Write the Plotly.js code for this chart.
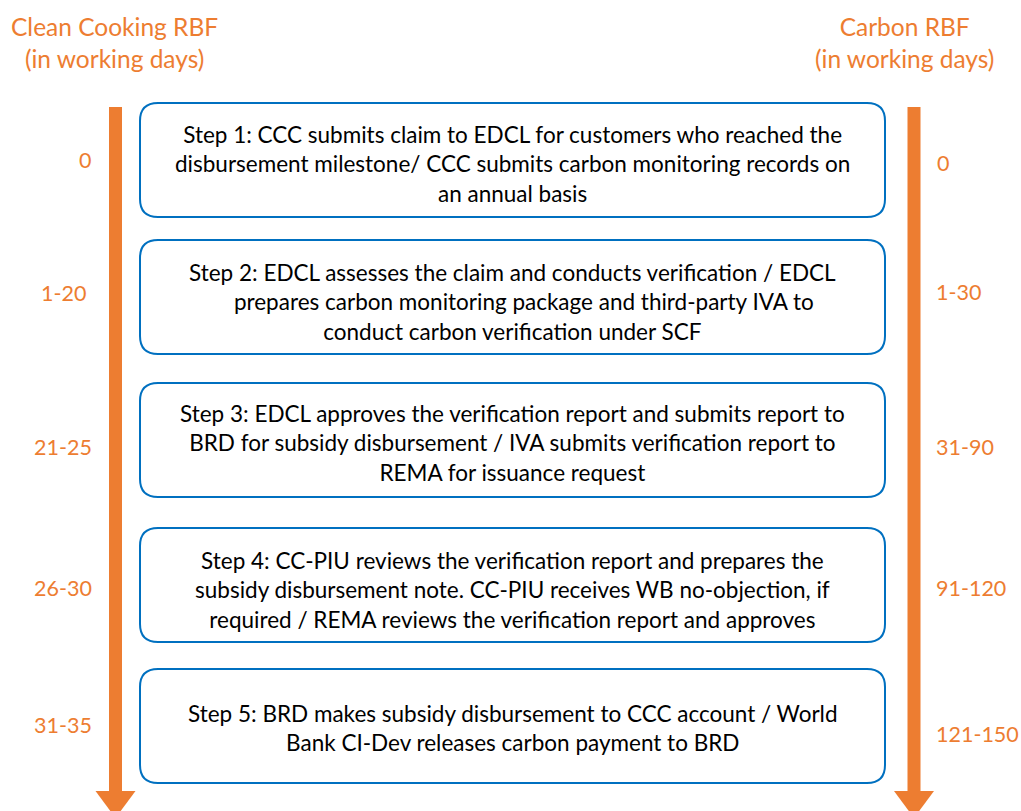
<!DOCTYPE html>
<html><head><meta charset="utf-8">
<script src="https://cdn.plot.ly/plotly-3.0.1.min.js"></script>
<style>html,body{margin:0;padding:0;background:#fff;}#chart{width:1021px;height:811px;}</style>
</head><body><div id="chart"></div>
<script>
// ---- data ----
const steps = [
  "Step 1: CCC submits claim to EDCL for customers who reached the<br>disbursement milestone/ CCC submits carbon monitoring records on<br>an annual basis",
  "Step 2: EDCL assesses the claim and conducts verification / EDCL<br>    prepares carbon monitoring package and third-party IVA to<br>conduct carbon verification under SCF",
  "Step 3: EDCL approves the verification report and submits report to<br>BRD for subsidy disbursement / IVA submits verification report to<br>REMA for issuance request",
  "Step 4: CC-PIU reviews the verification report and prepares the<br>subsidy disbursement note. CC-PIU receives WB no-objection, if<br>required / REMA reviews the verification report and approves",
  "Step 5: BRD makes subsidy disbursement to CCC account / World<br>Bank CI-Dev releases carbon payment to BRD"
];
const cleanCookingDays = ["0", "1-20", "21-25", "26-30", "31-35"];
const carbonDays = ["0", "1-30", "31-90", "91-120", "121-150"];
const leftTitle = "Clean Cooking RBF<br>(in working days)";
const rightTitle = "Carbon RBF<br>(in working days)";

// ---- layout geometry ----
const W = 1021, H = 811;
const boxTop = [103, 240, 383, 528, 669];
const boxH = 114, boxL = 140, boxR = 885, rad = 18;
const textOffset = [4, 5, 3, 5, 2];
const orange = "#ED7D31", blue = "#0070C0";
const fontFam = "Lato, 'Open Sans', sans-serif";

function roundRect(x0, y0, x1, y1, r) {
  return `M${x0+r},${y0} L${x1-r},${y0} Q${x1},${y0} ${x1},${y0+r} L${x1},${y1-r} Q${x1},${y1} ${x1-r},${y1} L${x0+r},${y1} Q${x0},${y1} ${x0},${y1-r} L${x0},${y0+r} Q${x0},${y0} ${x0+r},${y0} Z`;
}
function arrow(cx) {
  return [
    {type:"rect", xref:"x", yref:"y", x0:cx-6.5, x1:cx+6.5, y0:107, y1:792, fillcolor:orange, line:{width:0}},
    {type:"path", xref:"x", yref:"y", path:`M${cx-20},791 L${cx+20},791 L${cx},818 Z`, fillcolor:orange, line:{width:0}}
  ];
}

const shapes = [];
shapes.push(...arrow(115.5), ...arrow(914));
steps.forEach((s, i) => {
  shapes.push({type:"path", xref:"x", yref:"y", path: roundRect(boxL, boxTop[i], boxR, boxTop[i]+boxH, rad),
    fillcolor:"#ffffff", line:{color:blue, width:2}});
});

const annotations = [];
steps.forEach((s, i) => {
  annotations.push({x:(boxL+boxR)/2, y:boxTop[i]+boxH/2 + textOffset[i], xref:"x", yref:"y", text:s, showarrow:false,
    align:"center", xanchor:"center", yanchor:"middle",
    font:{family:fontFam, size:22.5, color:"#000"}});
});
const leftX = [85, 63, 63, 63, 63];
const leftY = [160, 293, 447, 588, 725];
const rightX = [943, 958, 965, 971, 977];
const rightY = [163, 292, 447, 588, 734];
cleanCookingDays.forEach((d, i) => {
  annotations.push({x:leftX[i], y:leftY[i], xref:"x", yref:"y", text:d, showarrow:false, xanchor:"center", yanchor:"middle",
    font:{family:fontFam, size:21.5, color:orange}});
});
carbonDays.forEach((d, i) => {
  annotations.push({x:rightX[i], y:rightY[i], xref:"x", yref:"y", text:d, showarrow:false, xanchor:"center", yanchor:"middle",
    font:{family:fontFam, size:21.5, color:orange}});
});
annotations.push({x:114, y:42, xref:"x", yref:"y", text:leftTitle, showarrow:false, align:"center", xanchor:"center", yanchor:"middle",
  font:{family:fontFam, size:24.5, color:orange}});
annotations.push({x:904, y:42, xref:"x", yref:"y", text:rightTitle, showarrow:false, align:"center", xanchor:"center", yanchor:"middle",
  font:{family:fontFam, size:24.5, color:orange}});

const layout = {
  width: W, height: H,
  margin: {l:0, r:0, t:0, b:0},
  paper_bgcolor: "#ffffff", plot_bgcolor: "#ffffff",
  xaxis: {range:[0, W], visible:false, fixedrange:true},
  yaxis: {range:[H, 0], visible:false, fixedrange:true},
  shapes, annotations, showlegend:false
};
Plotly.newPlot("chart", [{x:[], y:[], type:"scatter", hoverinfo:"skip"}], layout, {staticPlot:true, displayModeBar:false});
</script></body></html>
